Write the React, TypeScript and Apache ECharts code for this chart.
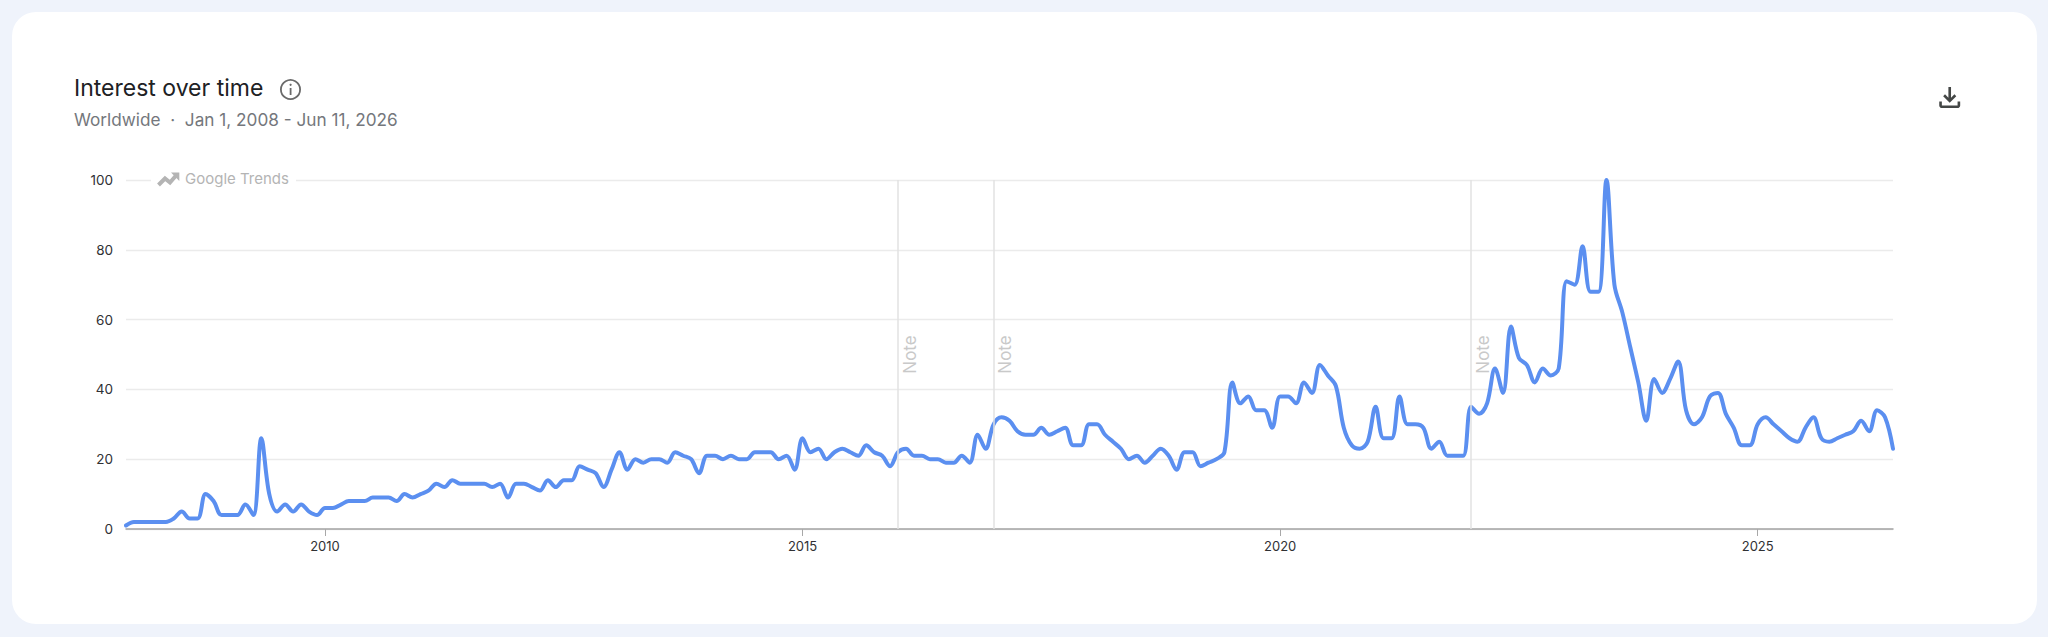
import { useEffect, useRef } from 'react'
import * as echarts from 'echarts'

// monthly interest values, Dec 2007 to Jun 2026
const interest2008to2012 = [
  1, 2, 2, 2, 2, 2, 3, 5, 3, 3,
  10, 8, 4, 4, 4, 7, 4, 26, 10, 5,
  7, 5, 7, 5, 4, 6, 6, 7, 8, 8,
  8, 9, 9, 9, 8, 10, 9, 10, 11, 13,
  12, 14, 13, 13, 13, 13, 12, 13, 9, 13,
  13, 12, 11, 14, 12, 14, 14, 18, 17, 16,
]
const interest2013to2017 = [
  12, 17, 22, 17, 20, 19, 20, 20, 19, 22,
  21, 20, 16, 21, 21, 20, 21, 20, 20, 22,
  22, 22, 20, 21, 17, 26, 22, 23, 20, 22,
  23, 22, 21, 24, 22, 21, 18, 22, 23, 21,
  21, 20, 20, 19, 19, 21, 19, 27, 23, 30,
  32, 31, 28, 27, 27, 29, 27, 28, 29, 24,
]
const interest2018to2022 = [
  24, 30, 30, 27, 25, 23, 20, 21, 19, 21,
  23, 21, 17, 22, 22, 18, 19, 20, 22, 42,
  36, 38, 34, 34, 29, 38, 38, 36, 42, 39,
  47, 44, 41, 29, 24, 23, 25, 35, 26, 26,
  38, 30, 30, 29, 23, 25, 21, 21, 21, 35,
  33, 36, 46, 39, 58, 49, 47, 42, 46, 44,
]
const interest2023to2026 = [
  46, 71, 70, 81, 68, 68, 100, 70, 62, 52,
  42, 31, 43, 39, 43, 48, 34, 30, 32, 38,
  39, 33, 29, 24, 24, 30, 32, 30, 28, 26,
  25, 29, 32, 26, 25, 26, 27, 28, 31, 28,
  34, 32, 23,
]
const interest = [...interest2008to2012, ...interest2013to2017, ...interest2018to2022, ...interest2023to2026]

const months: string[] = ['2007-12']
for (let y = 2008; y <= 2026; y++) {
  for (let m = 1; m <= 12; m++) {
    if (y === 2026 && m > 6) break
    months.push(`${y}-${String(m).padStart(2, '0')}`)
  }
}

const yearLabels = ['2010', '2015', '2020', '2025']
const noteMonths = ['2016-01', '2017-01', '2022-01']

const FONT = 'Inter, "Noto Sans", sans-serif'

echarts.graphic.registerShape(
  'downloadIcon',
  echarts.graphic.extendPath(
    'M12 16l-5-5 1.4-1.45 2.6 2.6V4h2v8.15l2.6-2.6L17 11l-5 5zM6 20c-1.1 0-2-.9-2-2v-3h2v3h12v-3h2v3c0 1.1-.9 2-2 2H6z',
    {}
  )
)

const isYearStart = (value: string) => value.endsWith('-01') && yearLabels.includes(value.slice(0, 4))

export default function App() {
  const chartRef = useRef<HTMLDivElement>(null)

  useEffect(() => {
    if (!chartRef.current) return
    const chart = echarts.init(chartRef.current, null, { renderer: 'svg' })
    chart.setOption({
      animation: false,
      backgroundColor: 'transparent',
      grid: { left: 126, right: 155, top: 180, bottom: 108 },
      xAxis: {
        type: 'category',
        data: months,
        boundaryGap: false,
        axisLine: { lineStyle: { color: '#a3a3a3', width: 1.5 } },
        axisTick: {
          alignWithLabel: true,
          length: 7,
          lineStyle: { color: '#a8a8a8', width: 1 },
          interval: (_: number, value: string) => isYearStart(value),
        },
        axisLabel: {
          interval: (_: number, value: string) => isYearStart(value),
          formatter: (value: string) => value.slice(0, 4),
          color: '#303134',
          fontFamily: FONT,
          fontSize: 13,
          margin: 10,
        },
      },
      yAxis: {
        type: 'value',
        min: 0,
        max: 100,
        interval: 20,
        axisLine: { show: false },
        axisTick: { show: false },
        splitLine: { lineStyle: { color: '#ebebeb', width: 1.3 } },
        axisLabel: { color: '#303134', fontFamily: FONT, fontSize: 13.5, margin: 13 },
      },
      series: [
        {
          type: 'line',
          data: interest,
          showSymbol: false,
          smooth: 0.35,
          clip: false,
          lineStyle: { color: '#5b8ff0', width: 4, cap: 'round', join: 'round' },
          markLine: {
            silent: true,
            symbol: 'none',
            lineStyle: { color: '#e2e2e2', width: 1.5, type: 'solid' },
            label: {
              show: true,
              formatter: 'Note',
              position: 'insideMiddleBottom',
              distance: 3,
              color: '#c9c9c9',
              fontFamily: FONT,
              fontSize: 17,
            },
            data: noteMonths.map((m) => ({ xAxis: m })),
          },
        },
      ],
      graphic: [
        {
          type: 'text',
          x: 74,
          y: 76,
          z: 10,
          style: { text: 'Interest over time', fill: '#202124', font: `400 23px ${FONT}` },
        },
        {
          type: 'text',
          x: 74,
          y: 111,
          z: 10,
          style: { text: 'Worldwide  ·  Jan 1, 2008 - Jun 11, 2026', fill: '#74777c', font: `400 17.2px ${FONT}` },
        },
        { type: 'circle', z: 10, shape: { cx: 290.5, cy: 89.5, r: 9.6 }, style: { fill: 'none', stroke: '#6a6a6a', lineWidth: 1.8 } },
        { type: 'rect', z: 10, shape: { x: 289.7, y: 88, width: 1.8, height: 7 }, style: { fill: '#6a6a6a' } },
        { type: 'circle', z: 10, shape: { cx: 290.6, cy: 84.8, r: 1.1 }, style: { fill: '#6a6a6a' } },
        { type: 'downloadIcon', x: 1934, y: 81.8, scaleX: 1.31, scaleY: 1.31, z: 10, style: { fill: '#444746' } },
        // watermark sits on a white patch that cuts the 100 gridline
        { type: 'rect', z: 10, shape: { x: 151, y: 172, width: 145, height: 18 }, style: { fill: '#ffffff' } },
        {
          type: 'polyline',
          z: 11,
          shape: { points: [[158.5, 185], [165, 178.5], [170, 182.5], [176.5, 175]] },
          style: { fill: 'none', stroke: '#b4b4b4', lineWidth: 4 },
        },
        { type: 'polygon', z: 11, shape: { points: [[171, 172.5], [179.3, 172.5], [179.3, 181]] }, style: { fill: '#b4b4b4' } },
        {
          type: 'text',
          x: 185,
          y: 171,
          z: 11,
          style: { text: 'Google Trends', fill: '#b4b4b4', font: `400 15px ${FONT}` },
        },
      ],
    })
    return () => chart.dispose()
  }, [])

  return (
    <div style={{ position: 'fixed', left: 0, top: 0, width: 2048, height: 637, background: '#eff3fb' }}>
      <div style={{ position: 'absolute', left: 12, top: 12, width: 2025, height: 612, background: '#fff', borderRadius: 24 }} />
      <div ref={chartRef} style={{ position: 'absolute', left: 0, top: 0, width: 2048, height: 637 }} />
    </div>
  )
}
